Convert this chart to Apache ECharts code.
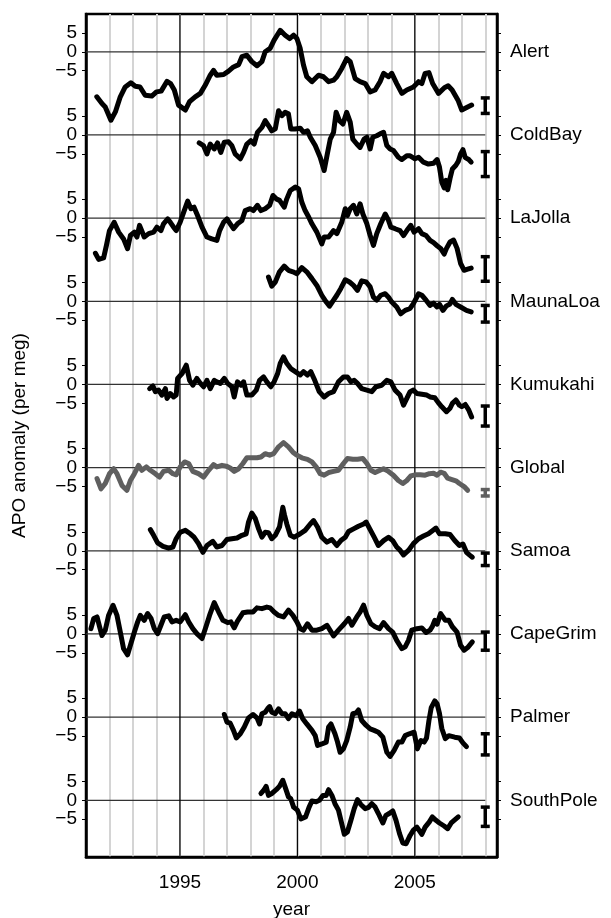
<!DOCTYPE html>
<html>
<head>
<meta charset="utf-8">
<script src="https://cdn.jsdelivr.net/npm/echarts@6/dist/echarts.min.js"></script>
<style>
html, body { margin: 0; padding: 0; background: #fff; }
#chart { width: 611px; height: 918px; }
</style>
</head>
<body>
<div id="chart"></div>
<script>
var stations = ['Alert', 'ColdBay', 'LaJolla', 'MaunaLoa', 'Kumukahi', 'Global', 'Samoa', 'CapeGrim', 'Palmer', 'SouthPole'];

// APO anomaly (per meg), [year, value]
var alertData = [[1991.46,-11.9],[1991.68,-13.7],[1991.82,-14.6],[1992.06,-18.1],[1992.25,-15.9],[1992.46,-11.9],[1992.67,-9.3],[1992.91,-8.2],[1993.1,-9.1],[1993.3,-9.3],[1993.52,-11.5],[1993.8,-11.7],[1994.0,-10.6],[1994.2,-10.4],[1994.45,-7.8],[1994.6,-8.4],[1994.76,-10.1],[1994.94,-14.1],[1995.23,-15.4],[1995.41,-13.2],[1995.65,-11.9],[1995.87,-11.0],[1996.08,-8.8],[1996.29,-6.2],[1996.43,-4.9],[1996.57,-6.2],[1996.86,-6.0],[1997.07,-5.1],[1997.28,-4.0],[1997.5,-3.4],[1997.64,-1.3],[1997.85,-0.9],[1998.06,-2.6],[1998.28,-3.7],[1998.49,-2.6],[1998.63,0],[1998.84,0.9],[1999.01,3.1],[1999.27,5.7],[1999.48,4.4],[1999.67,3.5],[1999.84,4.4],[1999.98,3.5],[2000.12,0.9],[2000.26,-3.5],[2000.4,-6.6],[2000.62,-7.9],[2000.9,-6.2],[2001.11,-6.6],[2001.33,-7.9],[2001.54,-7.5],[2001.68,-6.6],[2001.89,-4.4],[2002.1,-1.8],[2002.25,-2.6],[2002.46,-7.1],[2002.67,-7.9],[2002.89,-8.4],[2003.1,-10.6],[2003.31,-10.1],[2003.52,-7.9],[2003.67,-5.7],[2003.88,-6.6],[2004.02,-5.7],[2004.23,-8.4],[2004.45,-11.0],[2004.66,-10.1],[2004.94,-9.3],[2005.16,-7.9],[2005.3,-8.4],[2005.44,-5.7],[2005.6,-5.5],[2005.76,-8.4],[2006.01,-11.0],[2006.26,-9.5],[2006.42,-9.0],[2006.59,-10.1],[2006.84,-12.8],[2007.0,-15.4],[2007.25,-14.6],[2007.42,-14.1]];
var coldBayData = [[1995.82,-2.1],[1996.0,-2.8],[1996.15,-5.0],[1996.29,-2.4],[1996.46,-3.7],[1996.6,-2.1],[1996.74,-4.6],[1996.89,-1.9],[1997.07,-1.8],[1997.21,-2.8],[1997.35,-5.0],[1997.57,-6.3],[1997.71,-4.6],[1997.85,-2.4],[1998.02,-1.5],[1998.16,-2.4],[1998.3,0.7],[1998.49,2.0],[1998.63,3.8],[1998.77,2.5],[1998.91,1.1],[1999.06,1.6],[1999.2,6.4],[1999.34,5.1],[1999.48,6.0],[1999.62,5.6],[1999.72,1.6],[1999.9,1.6],[2000.12,1.8],[2000.26,0.7],[2000.43,1.1],[2000.55,-0.6],[2000.76,-2.8],[2000.97,-5.9],[2001.14,-9.4],[2001.26,-5.5],[2001.4,-1.1],[2001.54,0.7],[2001.65,6.0],[2001.79,3.8],[2001.94,2.9],[2002.1,6.0],[2002.25,3.4],[2002.36,-1.1],[2002.53,-2.4],[2002.67,-3.3],[2002.84,-1.1],[2002.96,-0.6],[2003.1,-3.7],[2003.21,-0.6],[2003.38,-0.2],[2003.52,0.3],[2003.67,0.7],[2003.81,-2.8],[2003.95,-3.7],[2004.09,-4.1],[2004.3,-5.9],[2004.45,-6.5],[2004.66,-5.5],[2004.8,-5.5],[2005.01,-6.3],[2005.16,-5.9],[2005.37,-7.2],[2005.58,-7.7],[2005.8,-7.5],[2005.95,-6.5],[2006.05,-8.5],[2006.15,-12.5],[2006.25,-14.0],[2006.33,-12.0],[2006.4,-14.5],[2006.5,-11.5],[2006.6,-9.0],[2006.75,-8.0],[2006.85,-7.0],[2006.95,-5.0],[2007.05,-3.9],[2007.15,-6.0],[2007.3,-6.5],[2007.4,-7.2]];
var laJollaData = [[1991.4,-9.3],[1991.54,-10.9],[1991.75,-10.5],[1991.87,-7.2],[1992.0,-3.3],[1992.2,-1.1],[1992.39,-3.7],[1992.6,-5.5],[1992.77,-8.1],[1992.89,-4.6],[1993.06,-3.7],[1993.17,-5.0],[1993.28,-1.9],[1993.48,-5.0],[1993.67,-4.1],[1993.88,-3.7],[1994.02,-2.4],[1994.19,-3.3],[1994.3,-1.5],[1994.48,-0.2],[1994.59,-1.1],[1994.73,-2.4],[1994.84,-3.3],[1995.01,-1.1],[1995.16,1.6],[1995.33,4.5],[1995.47,2.5],[1995.6,2.9],[1995.75,0.7],[1995.94,-2.4],[1996.15,-5.0],[1996.36,-5.5],[1996.57,-5.9],[1996.69,-3.3],[1996.86,-1.1],[1997.0,-0.2],[1997.14,-1.5],[1997.28,-2.8],[1997.45,-1.5],[1997.64,-0.6],[1997.78,2.0],[1997.99,2.5],[1998.13,2.0],[1998.3,3.4],[1998.45,2.0],[1998.63,2.5],[1998.82,3.4],[1998.96,6.0],[1999.1,5.1],[1999.24,4.7],[1999.44,2.9],[1999.55,5.1],[1999.7,7.3],[1999.91,8.2],[2000.05,7.8],[2000.19,4.2],[2000.33,2.0],[2000.48,0.3],[2000.62,-1.5],[2000.83,-3.7],[2001.04,-6.8],[2001.14,-5.0],[2001.33,-5.0],[2001.54,-3.3],[2001.68,-4.1],[2001.89,-1.1],[2002.04,2.5],[2002.13,0.7],[2002.25,2.5],[2002.39,3.4],[2002.53,1.1],[2002.67,3.8],[2002.79,1.1],[2002.96,-1.5],[2003.1,-4.6],[2003.24,-7.2],[2003.38,-4.1],[2003.55,-1.5],[2003.74,1.1],[2003.88,-0.6],[2003.98,-2.4],[2004.16,-2.8],[2004.37,-3.3],[2004.52,-4.6],[2004.66,-3.3],[2004.83,-1.9],[2004.97,-3.7],[2005.16,-2.8],[2005.3,-4.1],[2005.48,-4.6],[2005.65,-5.9],[2005.8,-6.5],[2005.95,-7.3],[2006.1,-8.0],[2006.25,-9.5],[2006.35,-8.0],[2006.5,-6.3],[2006.65,-5.8],[2006.8,-8.0],[2006.95,-12.0],[2007.1,-13.8],[2007.25,-13.5],[2007.4,-13.2]];
var maunaLoaData = [[1998.77,6.4],[1998.91,4.0],[1999.06,5.1],[1999.24,7.8],[1999.44,9.3],[1999.62,8.2],[1999.81,7.8],[1999.98,7.3],[2000.19,8.9],[2000.4,7.8],[2000.62,6.0],[2000.83,4.2],[2001.04,1.6],[2001.23,-0.2],[2001.37,-1.3],[2001.54,0.3],[2001.68,1.6],[2001.85,3.4],[2002.04,5.7],[2002.22,5.1],[2002.39,4.2],[2002.56,2.9],[2002.74,5.4],[2002.93,5.1],[2003.1,3.8],[2003.24,1.1],[2003.38,0.3],[2003.55,1.6],[2003.74,2.0],[2003.88,1.1],[2004.02,-0.2],[2004.23,-1.5],[2004.4,-3.3],[2004.59,-2.4],[2004.8,-1.9],[2004.94,-0.6],[2005.16,2.0],[2005.3,1.6],[2005.48,0.3],[2005.65,-1.1],[2005.8,-0.5],[2005.95,-1.5],[2006.05,-0.8],[2006.2,-2.4],[2006.35,-1.2],[2006.5,-0.7],[2006.6,0.5],[2006.75,-0.8],[2006.95,-1.5],[2007.2,-2.4],[2007.4,-2.8]];
var kumukahiData = [[1993.71,-1.1],[1993.85,-0.4],[1993.95,-1.9],[1994.09,-1.5],[1994.23,-2.8],[1994.38,-1.1],[1994.45,-3.7],[1994.59,-2.4],[1994.73,-3.3],[1994.84,-2.8],[1994.9,1.6],[1995.09,2.9],[1995.27,5.1],[1995.41,1.1],[1995.55,-0.2],[1995.72,1.6],[1995.87,0.3],[1996.01,-0.6],[1996.15,1.1],[1996.29,-1.1],[1996.46,1.1],[1996.57,0.7],[1996.72,0.3],[1996.89,1.6],[1997.03,0.3],[1997.21,-0.6],[1997.31,-3.3],[1997.45,0.7],[1997.6,-0.2],[1997.71,0.7],[1997.85,-2.8],[1998.06,-2.8],[1998.25,-1.5],[1998.39,1.1],[1998.56,2.0],[1998.7,0.7],[1998.87,-0.6],[1999.01,0.7],[1999.16,2.9],[1999.27,5.6],[1999.41,7.3],[1999.55,5.6],[1999.72,4.2],[1999.91,3.4],[2000.12,2.5],[2000.26,3.4],[2000.43,2.5],[2000.57,3.4],[2000.74,1.1],[2000.93,-1.9],[2001.14,-3.3],[2001.33,-2.4],[2001.54,-1.9],[2001.75,0.7],[2001.96,2.0],[2002.13,2.0],[2002.28,0.7],[2002.42,1.1],[2002.56,0.3],[2002.74,-1.1],[2002.96,-1.5],[2003.17,-1.9],[2003.35,-0.6],[2003.59,-0.2],[2003.81,1.1],[2003.98,0.7],[2004.16,-1.5],[2004.37,-2.8],[2004.52,-5.5],[2004.66,-3.7],[2004.8,-1.9],[2004.94,-1.5],[2005.09,-2.4],[2005.3,-2.6],[2005.51,-2.8],[2005.65,-3.3],[2005.85,-3.5],[2006.0,-4.8],[2006.15,-5.9],[2006.35,-7.2],[2006.5,-6.3],[2006.6,-5.0],[2006.75,-4.1],[2006.9,-5.5],[2007.0,-5.9],[2007.15,-5.3],[2007.3,-6.8],[2007.42,-8.6]];
var globalData = [[1991.47,-2.9],[1991.64,-5.6],[1991.82,-4.2],[1992.0,-1.6],[1992.18,-0.3],[1992.32,-1.6],[1992.53,-4.7],[1992.74,-6.0],[1992.89,-3.4],[1993.06,-1.6],[1993.24,0.6],[1993.38,-0.7],[1993.57,0.2],[1993.74,-0.7],[1993.95,-1.6],[1994.13,-2.5],[1994.3,-1.0],[1994.52,-0.7],[1994.7,-1.6],[1994.84,-1.9],[1995.01,0.2],[1995.2,1.5],[1995.37,1.1],[1995.55,-1.0],[1995.79,-1.6],[1996.01,-2.5],[1996.22,-0.7],[1996.43,0.8],[1996.57,0.2],[1996.79,0.6],[1996.97,0.4],[1997.14,-0.1],[1997.31,-1.0],[1997.5,-0.3],[1997.68,1.1],[1997.85,2.6],[1998.06,2.6],[1998.28,2.6],[1998.45,2.8],[1998.63,3.7],[1998.82,3.3],[1998.99,3.7],[1999.2,5.5],[1999.41,6.6],[1999.62,5.5],[1999.81,4.1],[1999.98,3.3],[2000.19,2.6],[2000.43,2.2],[2000.62,1.5],[2000.8,0.2],[2000.97,-1.6],[2001.14,-2.0],[2001.33,-1.3],[2001.54,-1.0],[2001.75,-0.7],[2001.96,1.1],[2002.13,2.4],[2002.36,2.2],[2002.56,2.2],[2002.79,2.4],[2002.96,1.1],[2003.13,-0.7],[2003.31,-1.3],[2003.52,-0.7],[2003.67,-0.3],[2003.88,-1.0],[2004.09,-2.0],[2004.3,-3.4],[2004.49,-4.2],[2004.66,-3.4],[2004.83,-2.2],[2005.01,-1.9],[2005.23,-1.9],[2005.44,-2.0],[2005.62,-1.6],[2005.8,-1.5],[2005.95,-2.0],[2006.1,-1.2],[2006.25,-1.5],[2006.4,-2.8],[2006.55,-3.1],[2006.75,-3.5],[2006.9,-4.2],[2007.1,-5.0],[2007.25,-6.0]];
var samoaData = [[1993.74,5.6],[1993.88,4.1],[1994.05,2.1],[1994.28,1.2],[1994.52,0.7],[1994.7,1.0],[1994.84,3.2],[1995.01,4.9],[1995.23,5.4],[1995.44,4.5],[1995.6,3.6],[1995.79,1.9],[1995.98,-0.4],[1996.15,1.4],[1996.4,2.5],[1996.57,1.0],[1996.79,1.4],[1997.0,3.0],[1997.21,3.2],[1997.43,3.4],[1997.64,4.1],[1997.82,4.5],[1997.92,7.6],[1998.06,10.0],[1998.21,8.5],[1998.35,5.8],[1998.49,3.6],[1998.63,4.9],[1998.77,4.8],[1998.91,3.2],[1999.06,4.1],[1999.24,6.3],[1999.38,11.5],[1999.45,9.5],[1999.55,7.1],[1999.7,4.1],[1999.87,3.6],[2000.12,4.5],[2000.33,5.4],[2000.55,7.1],[2000.69,8.0],[2000.86,6.3],[2001.04,3.6],[2001.26,2.3],[2001.47,3.0],[2001.68,1.4],[2001.85,2.7],[2002.04,3.6],[2002.18,5.1],[2002.39,5.8],[2002.6,6.5],[2002.82,7.1],[2002.93,7.6],[2003.1,5.6],[2003.27,3.6],[2003.45,1.4],[2003.67,2.7],[2003.88,3.6],[2004.06,2.7],[2004.23,1.0],[2004.38,0.1],[2004.52,-1.1],[2004.73,0.1],[2004.94,1.9],[2005.16,3.2],[2005.37,3.9],[2005.58,4.5],[2005.75,5.3],[2005.9,6.0],[2006.05,4.5],[2006.3,4.5],[2006.5,4.3],[2006.7,2.7],[2006.9,1.4],[2007.05,1.8],[2007.2,-0.4],[2007.35,-1.2],[2007.45,-1.7]];
var capeGrimData = [[1991.21,1.4],[1991.33,4.1],[1991.47,4.5],[1991.58,1.9],[1991.68,-0.4],[1991.82,1.0],[1991.96,4.9],[1992.15,7.6],[1992.32,4.9],[1992.49,-0.4],[1992.6,-3.9],[1992.77,-5.5],[1992.91,-2.6],[1993.06,0.5],[1993.2,3.2],[1993.31,4.9],[1993.48,3.6],[1993.62,5.4],[1993.77,4.1],[1993.91,1.4],[1994.05,0.1],[1994.19,2.3],[1994.33,4.5],[1994.52,4.8],[1994.66,3.2],[1994.84,3.6],[1995.01,3.2],[1995.23,5.1],[1995.37,3.2],[1995.55,1.4],[1995.72,0.1],[1995.94,-1.2],[1996.08,1.4],[1996.26,4.9],[1996.46,8.3],[1996.65,5.8],[1996.83,3.6],[1997.03,3.0],[1997.17,3.2],[1997.31,1.6],[1997.45,3.4],[1997.68,5.6],[1997.88,5.8],[1998.11,5.8],[1998.28,6.9],[1998.49,6.7],[1998.7,7.1],[1998.84,6.9],[1999.01,5.8],[1999.2,4.9],[1999.41,4.5],[1999.62,6.3],[1999.81,4.9],[1999.98,3.2],[2000.12,1.4],[2000.26,1.0],[2000.43,2.7],[2000.62,1.0],[2000.83,1.0],[2001.04,1.4],[2001.26,2.3],[2001.54,-0.5],[2001.75,1.0],[2002.0,2.7],[2002.18,4.1],[2002.32,2.3],[2002.53,4.5],[2002.67,5.8],[2002.82,7.6],[2002.96,4.9],[2003.13,2.7],[2003.31,1.9],[2003.5,1.4],[2003.67,3.0],[2003.88,1.4],[2004.06,0.5],[2004.23,-1.7],[2004.45,-3.9],[2004.59,-3.4],[2004.73,-1.7],[2004.87,1.0],[2005.09,1.4],[2005.3,1.6],[2005.48,0.4],[2005.65,1.0],[2005.75,2.0],[2005.85,3.6],[2005.95,2.6],[2006.1,5.4],[2006.3,3.6],[2006.45,3.6],[2006.6,1.9],[2006.8,0.5],[2006.95,-3.0],[2007.1,-4.3],[2007.25,-3.6],[2007.45,-2.1]];
var palmerData = [[1996.89,0.7],[1997.0,-1.3],[1997.14,-1.6],[1997.28,-3.5],[1997.4,-5.5],[1997.57,-4.4],[1997.74,-2.6],[1997.92,-0.2],[1998.11,0.7],[1998.28,-0.2],[1998.39,-1.8],[1998.49,0.9],[1998.63,1.3],[1998.73,2.2],[1998.82,2.8],[1998.91,1.3],[1999.06,0.9],[1999.2,2.2],[1999.34,0.9],[1999.48,0.9],[1999.62,-0.4],[1999.77,0.9],[1999.95,0.4],[2000.09,1.6],[2000.23,-0.4],[2000.4,-1.8],[2000.62,-3.5],[2000.76,-4.9],[2000.86,-7.5],[2001.04,-7.1],[2001.23,-6.6],[2001.33,-2.6],[2001.43,-1.8],[2001.6,-4.4],[2001.71,-6.6],[2001.82,-9.3],[2001.96,-8.4],[2002.1,-6.2],[2002.25,-2.6],[2002.36,0.9],[2002.5,1.1],[2002.6,1.9],[2002.74,-0.9],[2002.93,-2.2],[2003.1,-3.1],[2003.27,-3.5],[2003.45,-4.0],[2003.64,-5.3],[2003.81,-9.3],[2003.95,-10.4],[2004.12,-8.8],[2004.3,-6.6],[2004.45,-6.6],[2004.59,-4.9],[2004.77,-4.4],[2004.97,-4.0],[2005.11,-8.4],[2005.26,-6.2],[2005.4,-6.6],[2005.5,-5.5],[2005.6,-1.0],[2005.7,2.5],[2005.85,4.3],[2005.95,3.5],[2006.05,1.0],[2006.15,-3.0],[2006.3,-5.7],[2006.45,-4.9],[2006.7,-5.3],[2006.9,-5.5],[2007.05,-6.8],[2007.2,-7.8]];
var southPoleData = [[1998.45,1.8],[1998.56,2.6],[1998.67,3.7],[1998.77,1.3],[1998.91,1.8],[1999.1,2.8],[1999.24,3.7],[1999.38,5.3],[1999.48,3.5],[1999.62,0.9],[1999.72,0.4],[1999.84,-1.8],[2000.0,-2.6],[2000.15,-4.9],[2000.35,-4.4],[2000.5,-1.8],[2000.62,-0.2],[2000.8,-0.4],[2000.94,0.0],[2001.09,1.3],[2001.23,1.3],[2001.33,2.8],[2001.47,1.3],[2001.6,-0.9],[2001.75,-2.6],[2001.89,-6.2],[2002.0,-9.0],[2002.13,-8.4],[2002.28,-5.3],[2002.42,-2.2],[2002.56,0.2],[2002.7,-1.1],[2002.89,-2.2],[2003.03,-1.9],[2003.17,-0.9],[2003.31,-1.8],[2003.45,-3.5],[2003.64,-6.0],[2003.77,-4.0],[2003.91,-3.5],[2004.06,-2.8],[2004.2,-5.3],[2004.35,-8.8],[2004.49,-11.3],[2004.63,-11.5],[2004.8,-9.3],[2004.94,-7.9],[2005.09,-7.1],[2005.3,-9.0],[2005.44,-7.1],[2005.62,-5.7],[2005.75,-4.4],[2005.9,-5.3],[2006.05,-6.0],[2006.25,-6.8],[2006.4,-7.5],[2006.55,-6.0],[2006.7,-5.2],[2006.85,-4.4]];

var stationData = [alertData, coldBayData, laJollaData, maunaLoaData, kumukahiData, globalData, samoaData, capeGrimData, palmerData, southPoleData];

// uncertainty bars drawn at 2008
var errYear = 2008;
var errLow  = [-16.3, -11.0, -16.7, -5.5, -11.0, -7.5, -3.9, -4.3, -10.0, -6.9];
var errHigh = [-12.2,  -4.4, -10.2, -1.1,  -5.7, -5.8, -0.6,  0.5,  -4.4, -1.8];

var tickLabels = [5, 0, -5];
var yearLabels = [1995, 2000, 2005];
var zeroStart = 1991, zeroEnd = 2008;

// layout: each station shifted up by a fixed step
var step = 22;
var offsets = stations.map(function (s, i) { return (stations.length - 1 - i) * step; });
var font = 'Liberation Sans, Arial, Helvetica, sans-serif';

var tickValues = [];
offsets.forEach(function (o) {
    tickLabels.forEach(function (t) { tickValues.push(o + t); });
});
tickValues.sort(function (a, b) { return a - b; });

function localValue(v) {
    return Math.round(v - Math.round(v / step) * step);
}

var chart = echarts.init(document.getElementById('chart'));

var series = [];

// zero lines + heavy year lines underneath the data
series.push({
    type: 'custom',
    z: 1,
    silent: true,
    data: offsets.map(function (o) { return [zeroStart, o, zeroEnd]; }),
    renderItem: function (params, api) {
        var p1 = api.coord([api.value(0), api.value(1)]);
        var p2 = api.coord([api.value(2), api.value(1)]);
        return {
            type: 'line',
            shape: { x1: p1[0], y1: p1[1], x2: p2[0], y2: p2[1] },
            style: { stroke: '#333', lineWidth: 1.2 }
        };
    }
});
series.push({
    type: 'custom',
    z: 1,
    silent: true,
    data: yearLabels.map(function (y) { return [y, 0]; }),
    renderItem: function (params, api) {
        var cs = params.coordSys;
        var x = api.coord([api.value(0), 0])[0];
        return {
            type: 'line',
            shape: { x1: x, y1: cs.y, x2: x, y2: cs.y + cs.height },
            style: { stroke: '#000', lineWidth: 1.2 }
        };
    }
});

stations.forEach(function (name, i) {
    var off = offsets[i];
    series.push({
        name: name,
        type: 'line',
        z: 3,
        showSymbol: false,
        silent: true,
        animation: false,
        data: stationData[i].map(function (p) { return [p[0], p[1] + off]; }),
        lineStyle: {
            color: name === 'Global' ? '#5f5f5f' : '#000',
            width: 5,
            cap: 'round',
            join: 'round'
        }
    });
});

series.push({
    type: 'custom',
    z: 4,
    silent: true,
    data: stations.map(function (name, i) {
        return {
            value: [errYear, errLow[i] + offsets[i], errHigh[i] + offsets[i]],
            itemStyle: { color: name === 'Global' ? '#5f5f5f' : '#000' }
        };
    }),
    renderItem: function (params, api) {
        var lo = api.coord([api.value(0), api.value(1)]);
        var hi = api.coord([api.value(0), api.value(2)]);
        var c = api.visual('color');
        var w = 4.5;
        var st = { stroke: c, lineWidth: 3.5 };
        return {
            type: 'group',
            children: [
                { type: 'line', shape: { x1: lo[0], y1: lo[1], x2: hi[0], y2: hi[1] }, style: st },
                { type: 'line', shape: { x1: lo[0] - w, y1: lo[1], x2: lo[0] + w, y2: lo[1] }, style: st },
                { type: 'line', shape: { x1: hi[0] - w, y1: hi[1], x2: hi[0] + w, y2: hi[1] }, style: st }
            ]
        };
    }
});

var option = {
    backgroundColor: '#fff',
    animation: false,
    textStyle: { fontFamily: font },
    grid: {
        left: 86,
        right: 114,
        top: 14,
        bottom: 61,
        outerBoundsMode: 'none',
        show: true,
        borderColor: '#000',
        borderWidth: 2.5,
        backgroundColor: 'transparent'
    },
    xAxis: {
        type: 'value',
        min: 1991,
        max: 2008.5,
        interval: 1,
        name: 'year',
        nameLocation: 'middle',
        nameGap: 43,
        nameTextStyle: { color: '#000', fontSize: 19, fontFamily: font },
        axisLine: { onZero: false, lineStyle: { color: '#000', width: 2.5 } },
        axisTick: { show: false },
        axisLabel: {
            customValues: yearLabels,
            color: '#000',
            fontSize: 19,
            fontFamily: font,
            margin: 16,
            formatter: function (v) { return String(v); }
        },
        splitLine: {
            show: true,
            showMinLine: false,
            showMaxLine: false,
            lineStyle: { color: '#d4d4d4', width: 2 }
        }
    },
    yAxis: [{
        type: 'value',
        position: 'left',
        min: -15,
        max: 208,
        name: 'APO anomaly (per meg)',
        nameLocation: 'middle',
        nameGap: 57,
        nameTextStyle: { color: '#000', fontSize: 19, fontFamily: font },
        axisLine: { show: true, onZero: false, lineStyle: { color: '#000', width: 2.5 } },
        axisTick: { show: true, customValues: tickValues, length: 4, lineStyle: { color: '#000', width: 1 } },
        axisLabel: {
            customValues: tickValues,
            showMinLabel: true,
            showMaxLabel: true,
            hideOverlap: false,
            color: '#000',
            fontSize: 19,
            fontFamily: font,
            margin: 9,
            formatter: function (v) {
                var t = localValue(v);
                return t < 0 ? '\u2212' + Math.abs(t) : String(t);
            }
        },
        splitLine: { show: false }
    }, {
        type: 'value',
        position: 'right',
        min: -15,
        max: 208,
        axisLine: { show: true, onZero: false, lineStyle: { color: '#000', width: 2.5 } },
        axisTick: { show: true, customValues: tickValues, length: 4, lineStyle: { color: '#000', width: 1 } },
        axisLabel: {
            customValues: offsets,
            showMinLabel: true,
            showMaxLabel: true,
            hideOverlap: false,
            color: '#000',
            fontSize: 19,
            fontFamily: font,
            margin: 13,
            formatter: function (v) {
                return stations[offsets.indexOf(Math.round(v))] || '';
            }
        },
        splitLine: { show: false }
    }],
    series: series
};

chart.setOption(option);
</script>
</body>
</html>
